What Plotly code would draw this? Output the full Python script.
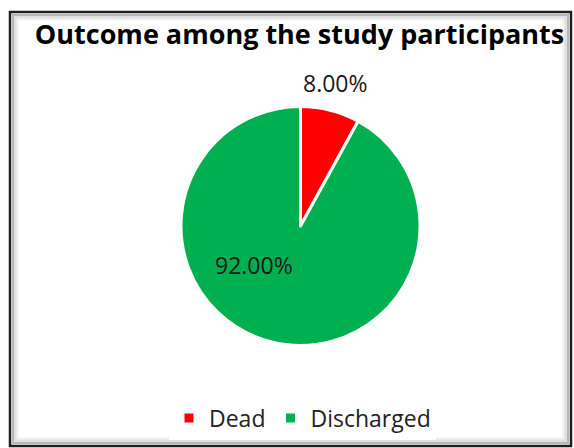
import plotly.graph_objects as go

labels = ["Dead", "Discharged"]
values = [8.0, 92.0]
colors = ["#FF0000", "#00B050"]
title_text = "Outcome among the study participants"

W, H = 574, 448
cx, cy, r = 300.5, 226, 119.5

total = sum(values)
pct_text = [f"{v / total * 100:.2f}%" for v in values]
# label anchor positions (pixels) for each slice's data label
label_pos = [(335, 83), (253.5, 265)]

fig = go.Figure(go.Pie(
    labels=labels,
    values=values,
    sort=False,
    direction="clockwise",
    rotation=0,
    marker=dict(colors=colors, line=dict(color="white", width=3)),
    textinfo="none",
    domain=dict(x=[(cx - r) / W, (cx + r) / W], y=[1 - (cy + r) / H, 1 - (cy - r) / H]),
    hoverinfo="label+percent",
))

annotations = []
for t, (px, py) in zip(pct_text, label_pos):
    annotations.append(dict(
        text=t, x=px / W, y=1 - py / H, xref="paper", yref="paper",
        xanchor="center", yanchor="middle", showarrow=False,
        font=dict(family="Open Sans", size=23, color="#1a1a1a"),
    ))

shapes = []
# inner soft shadow of the chart frame
for inset, col, wd in [(7, "#f2f2f2", 3), (5, "#e0e0e0", 3), (3, "#b8b8b8", 2)]:
    shapes.append(dict(type="rect", xref="paper", yref="paper",
                       x0=(10 + inset) / W, x1=(571 - inset) / W,
                       y0=1 - (446 - inset) / H, y1=1 - (12 + inset) / H,
                       line=dict(color=col, width=wd)))
shapes.append(dict(type="rect", xref="paper", yref="paper",
                   x0=10 / W, x1=571 / W, y0=1 - 446 / H, y1=1 - 12 / H,
                   line=dict(color="#1e1e1e", width=2.5)))

fig.update_layout(
    width=W, height=H,
    margin=dict(l=0, r=0, t=0, b=0),
    paper_bgcolor="white",
    font=dict(family="Open Sans", color="#111111"),
    title=dict(text="<b>" + title_text + "</b>", x=299.5 / W, xanchor="center",
               y=1 - 35 / H, yanchor="middle",
               font=dict(family="Open Sans", size=27, color="#000000")),
    legend=dict(orientation="h", x=169 / W, xanchor="left", y=1 - 418 / H, yanchor="middle",
                font=dict(family="Open Sans", size=23, color="#222222"),
                itemwidth=30),
    annotations=annotations,
    shapes=shapes,
)

fig.write_html("out.html")
